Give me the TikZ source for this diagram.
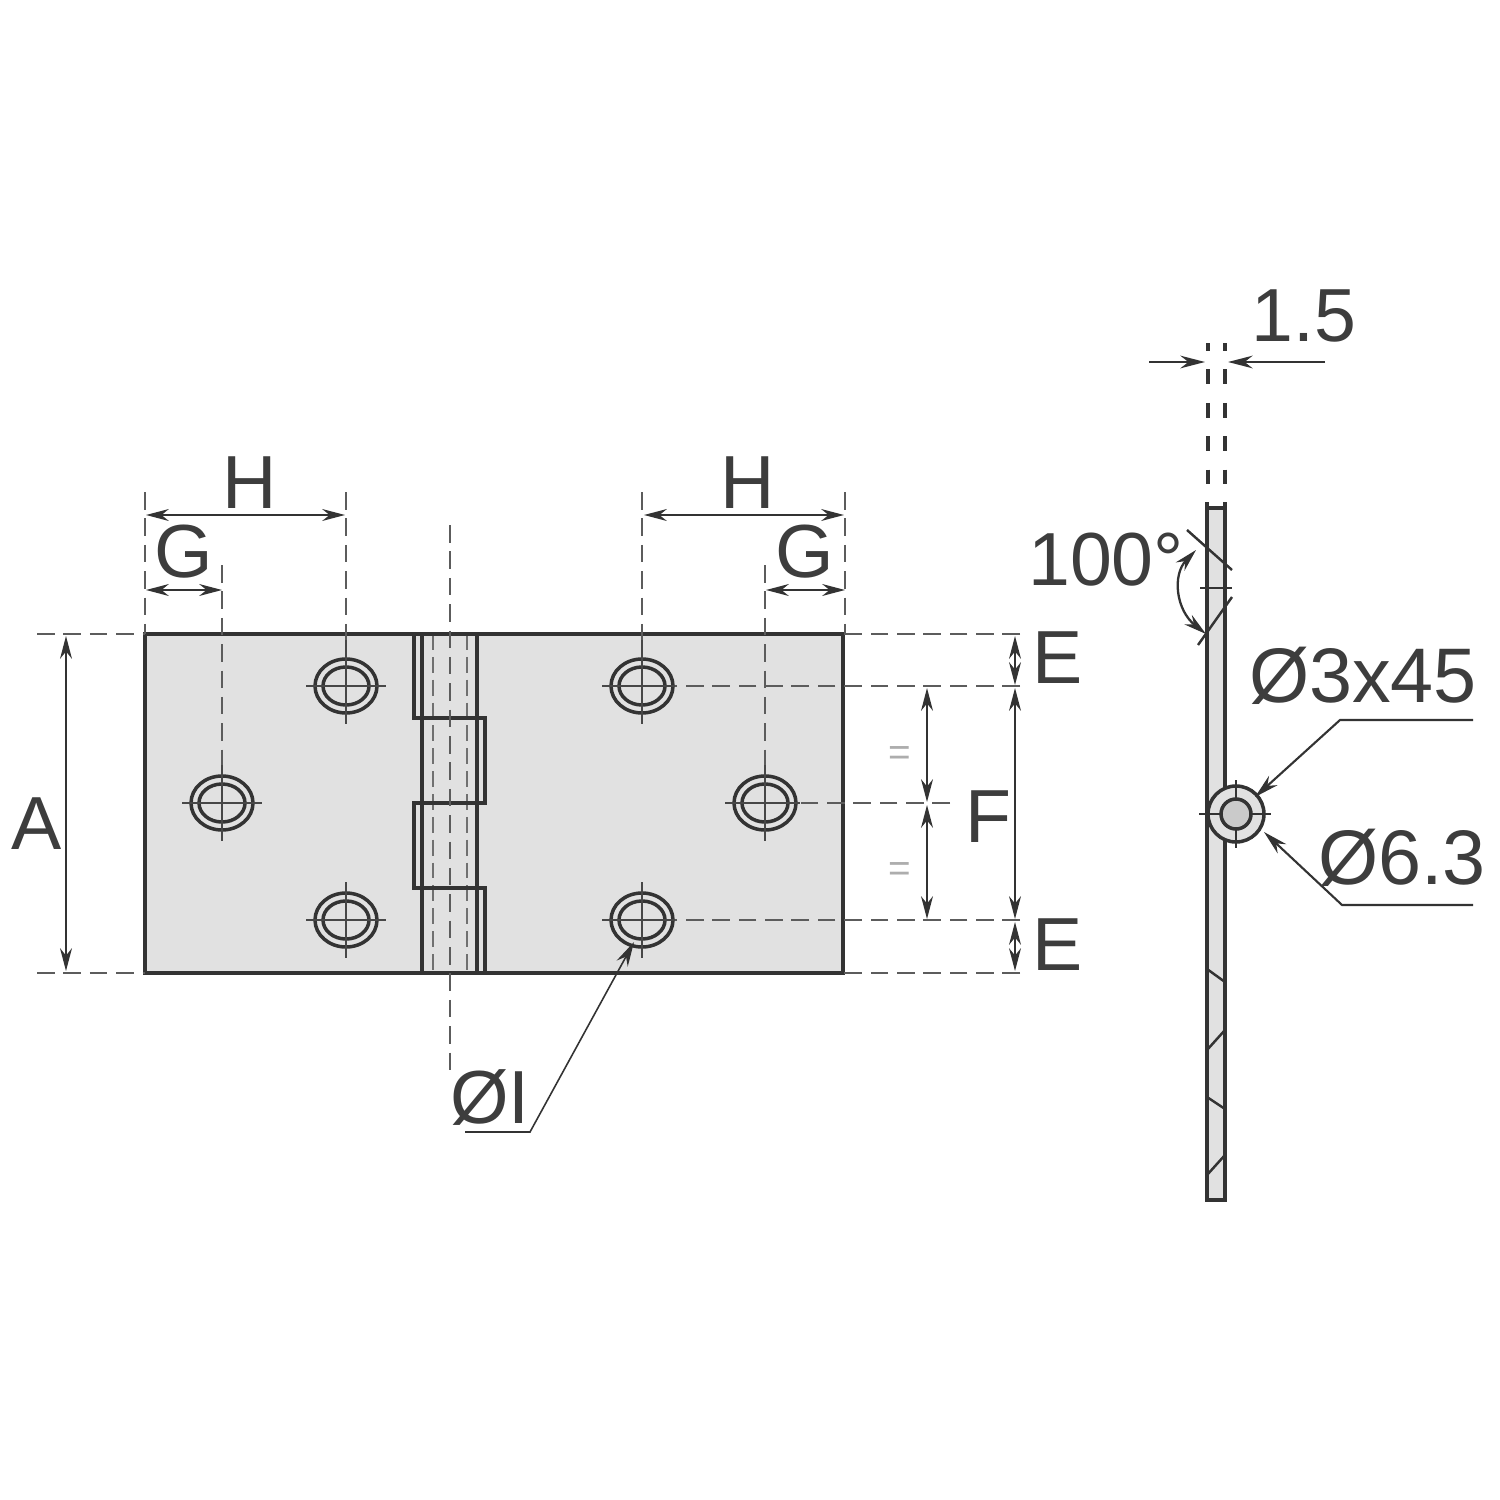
\documentclass[tikz,border=0pt]{standalone}
\usepackage{fontspec}
\setmainfont{Liberation Sans}
\usetikzlibrary{arrows.meta}
\definecolor{ink}{HTML}{333333}
\definecolor{plate}{HTML}{E1E1E1}
\begin{document}
\begin{tikzpicture}[x=0.01cm,y=-0.01cm]
\tikzstyle{outline}=[draw=ink, line width=1pt]
\tikzstyle{tick}=[draw=ink, line width=0.7pt]
\tikzstyle{thin line}=[draw=ink!90, line width=0.4pt]
\tikzstyle{dash line}=[draw=ink!80, line width=0.4pt, dash pattern=on 5pt off 2.5pt]
\tikzstyle{pin line}=[draw=ink!70, line width=0.6pt, dash pattern=on 4.5pt off 2pt]
\tikzstyle{strip dash}=[draw=ink, line width=1pt, dash pattern=on 4.3pt off 5.2pt, dash phase=2pt]
\tikzstyle{dim}=[{Stealth[length=6.5pt,width=3.4pt]}-{Stealth[length=6.5pt,width=3.4pt]}, draw=ink, line width=0.45pt]
\tikzstyle{arrow}=[-{Stealth[length=7pt,width=3.6pt]}, draw=ink, line width=0.6pt]
\tikzstyle{label}=[text=ink!95, inner sep=0pt, font=\fontsize{21.4}{21.4}\selectfont]
\tikzstyle{big label}=[label, font=\fontsize{22}{22}\selectfont]
\useasboundingbox (0,0) rectangle (1500,1500);

% plate
\coordinate (p1) at (145,634);
\coordinate (p2) at (843,973);
\fill[plate] (p1) rectangle (p2);

% hinge knuckles
\coordinate (k1) at (414,634);
\coordinate (k2) at (414,718);
\coordinate (k3) at (485,718);
\coordinate (k4) at (485,803);
\coordinate (k5) at (414,803);
\coordinate (k6) at (414,888);
\coordinate (k7) at (485,888);
\coordinate (k8) at (485,973);
\coordinate (s1) at (422,634);
\coordinate (s2) at (422,973);
\coordinate (s3) at (477,634);
\coordinate (s4) at (477,973);
\draw[pin line] (433,634) -- (433,973);
\draw[pin line] (467,634) -- (467,973);
\draw[outline] (p1) rectangle (p2);
\draw[outline] (k1) -- (k2) -- (k3) -- (k4) -- (k5) -- (k6) -- (k7) -- (k8);
\draw[outline] (s1) -- (s2);
\draw[outline] (s3) -- (s4);

% holes
\coordinate (h1) at (346,686);
\coordinate (h2) at (222,803);
\coordinate (h3) at (346,920);
\coordinate (h4) at (642,686);
\coordinate (h5) at (765,803);
\coordinate (h6) at (642,920);
\draw[outline] (h1) ellipse [x radius=31, y radius=27];
\draw[outline] (h1) ellipse [x radius=23, y radius=19];
\draw[outline] (h2) ellipse [x radius=31, y radius=27];
\draw[outline] (h2) ellipse [x radius=23, y radius=19];
\draw[outline] (h3) ellipse [x radius=31, y radius=27];
\draw[outline] (h3) ellipse [x radius=23, y radius=19];
\draw[outline] (h4) ellipse [x radius=31, y radius=27];
\draw[outline] (h4) ellipse [x radius=23, y radius=19];
\draw[outline] (h5) ellipse [x radius=31, y radius=27];
\draw[outline] (h5) ellipse [x radius=23, y radius=19];
\draw[outline] (h6) ellipse [x radius=31, y radius=27];
\draw[outline] (h6) ellipse [x radius=23, y radius=19];

% centre lines
\draw[thin line] (306,686) -- (386,686);
\draw[thin line] (182,803) -- (262,803);
\draw[thin line] (306,920) -- (386,920);
\draw[thin line] (602,686) -- (675,686);
\draw[thin line] (725,803) -- (800,803);
\draw[thin line] (602,920) -- (675,920);
\draw[thin line] (346,640) -- (346,724);
\draw[thin line] (222,765) -- (222,841);
\draw[thin line] (346,882) -- (346,958);
\draw[thin line] (642,640) -- (642,724);
\draw[thin line] (765,765) -- (765,841);
\draw[thin line] (642,882) -- (642,958);

% extension lines
\coordinate (e1) at (145,492);
\coordinate (e2) at (346,492);
\coordinate (e3) at (222,565);
\coordinate (e4) at (642,492);
\coordinate (e5) at (845,492);
\coordinate (e6) at (765,565);
\coordinate (e7) at (37,634);
\coordinate (e8) at (37,973);
\coordinate (e9) at (1020,634);
\coordinate (e10) at (1020,686);
\coordinate (e11) at (950,803);
\coordinate (e12) at (1020,920);
\coordinate (e13) at (1020,973);
\coordinate (c1) at (450,525);
\coordinate (c2) at (450,1075);
\draw[dash line] (e1) -- (p1);
\draw[dash line] (e2) -- (346,640);
\draw[dash line] (e3) -- (222,765);
\draw[dash line] (e4) -- (642,640);
\draw[dash line] (e5) -- (845,634);
\draw[dash line] (e6) -- (765,765);
\draw[dash line] (e7) -- (p1);
\draw[dash line] (e8) -- (145,973);
\draw[dash line] (e9) -- (843,634);
\draw[dash line] (e10) -- (675,686);
\draw[dash line] (e11) -- (800,803);
\draw[dash line] (e12) -- (675,920);
\draw[dash line] (e13) -- (p2);
\draw[dash line] (c1) -- (c2);

% dimensions
\coordinate (H1a) at (146,515);
\coordinate (H1b) at (345,515);
\coordinate (H2a) at (644,515);
\coordinate (H2b) at (844,515);
\coordinate (G1a) at (146,590);
\coordinate (G1b) at (222,590);
\coordinate (G2a) at (766,590);
\coordinate (G2b) at (845,590);
\coordinate (A1) at (66,636);
\coordinate (A2) at (66,971);
\coordinate (E1a) at (1015,636);
\coordinate (E1b) at (1015,685);
\coordinate (F1) at (1015,688);
\coordinate (F2) at (1015,919);
\coordinate (E2a) at (1015,922);
\coordinate (E2b) at (1015,971);
\coordinate (M1) at (927,688);
\coordinate (M2) at (927,802);
\coordinate (M3) at (927,805);
\coordinate (M4) at (927,919);
\draw[dim] (H1a) -- (H1b);
\draw[dim] (H2a) -- (H2b);
\draw[dim] (G1a) -- (G1b);
\draw[dim] (G2a) -- (G2b);
\draw[dim] (A1) -- (A2);
\draw[dim] (E1a) -- (E1b);
\draw[dim] (F1) -- (F2);
\draw[dim] (E2a) -- (E2b);
\draw[dim] (M1) -- (M2);
\draw[dim] (M3) -- (M4);

% hole leader
\coordinate (L1) at (465,1132);
\coordinate (L2) at (530,1132);
\coordinate (L3) at (634,942);
\draw[arrow, line width=0.45pt] (L1) -- (L2) -- (L3);

% labels of the front view
\node[label] (lH1) at (250,483) {H};
\node[label] (lH2) at (748,483) {H};
\node[label] (lG1) at (184,552) {G};
\node[label] (lG2) at (805,552) {G};
\node[label] (lA) at (37,824) {A};
\node[label] (lF) at (988,817) {F};
\node[label] (lE1) at (1058,658) {E};
\node[label] (lE2) at (1058,945) {E};
\node[label] (lI) at (490,1098) {ØI};
\node[text=ink!40, inner sep=0pt, font=\fontsize{11}{11}\selectfont] (eq1) at (900,756) {=};
\node[text=ink!40, inner sep=0pt, font=\fontsize{11}{11}\selectfont] (eq2) at (900,872) {=};

% side view
\coordinate (t1) at (1207,508);
\coordinate (t2) at (1225,1200);
\fill[plate] (t1) rectangle (t2);
\draw[outline] (t1) rectangle (t2);
\draw[outline] (1207,502) -- (t1);
\draw[outline] (1225,502) -- (1225,508);
\coordinate (d1) at (1208,343);
\coordinate (d2) at (1208,484);
\coordinate (d3) at (1225,343);
\coordinate (d4) at (1225,484);
\draw[strip dash] (d1) -- (d2);
\draw[strip dash] (d3) -- (d4);

% thickness arrows
\coordinate (w1) at (1149,362);
\coordinate (w2) at (1205,362);
\coordinate (w3) at (1325,362);
\coordinate (w4) at (1228,362);
\draw[arrow] (w1) -- (w2);
\draw[arrow] (w3) -- (w4);

% angle
\coordinate (a1) at (1187,530);
\coordinate (a2) at (1232,570);
\coordinate (a3) at (1198,645);
\coordinate (a4) at (1232,597);
\coordinate (a5) at (1200,588);
\coordinate (a6) at (1232,588);
\coordinate (a7) at (1196,550);
\coordinate (a8) at (1206,634);
\draw[tick] (a1) -- (a2);
\draw[tick] (a3) -- (a4);
\draw[tick] (a5) -- (a6);
\draw[dim, line width=0.65pt] (a7) .. controls (1172,575) and (1176,610) .. (a8);

% section ticks
\draw[tick] (1207,969) -- (1225,982);
\draw[tick] (1207,1050) -- (1225,1030);
\draw[tick] (1207,1097) -- (1225,1109);
\draw[tick] (1207,1175) -- (1225,1155);

% countersink
\coordinate (o) at (1236,814);
\filldraw[outline, fill=plate] (o) circle (28);
\draw[tick] (1199,814) -- (1271,814);
\draw[tick] (1236,780) -- (1236,848);
\filldraw[outline, fill=plate!90!black] (o) circle (15);

% leaders
\coordinate (b1) at (1473,720);
\coordinate (b2) at (1340,720);
\coordinate (b3) at (1255,797);
\coordinate (b4) at (1473,905);
\coordinate (b5) at (1342,905);
\coordinate (b6) at (1264,832);
\draw[arrow] (b1) -- (b2) -- (b3);
\draw[arrow] (b4) -- (b5) -- (b6);

% labels of the side view
\node[label] (l15) at (1304,316) {1.5};
\node[label] (l100) at (1106,560) {100°};
\node[big label] (l3x) at (1363,676) {Ø3x45};
\node[big label] (l63) at (1402,858) {Ø6.3};
\end{tikzpicture}
\end{document}
